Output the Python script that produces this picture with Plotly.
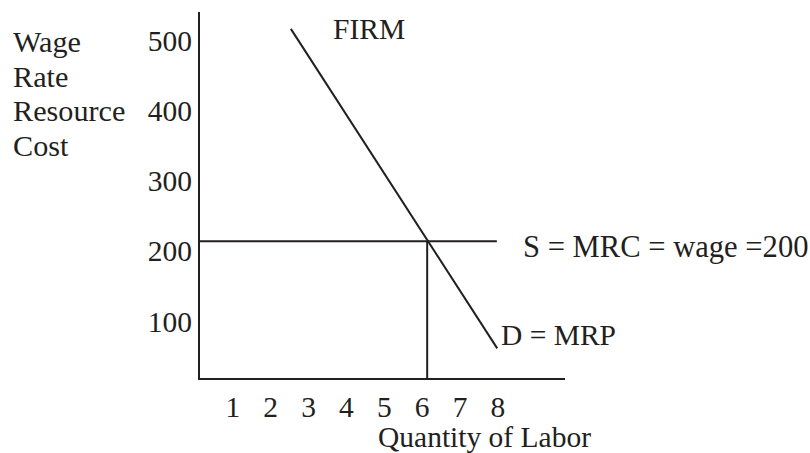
import plotly.graph_objects as go

# Data
quantity_ticks = [1, 2, 3, 4, 5, 6, 7, 8]
wage_ticks = [100, 200, 300, 400, 500]

demand_q = [2.40, 7.85]      # D = MRP endpoints (quantity)
demand_w = [503, 47]         # D = MRP endpoints (wage)
supply_q = [0, 7.84]         # S = MRC = wage = 200
supply_w = [200, 200]
equil_q = [6, 6]             # quantity hired
equil_w = [0, 200]

INK = "#231f20"
FONT = "Liberation Serif, Times New Roman, serif"
FS = 29.5

W, H = 810, 453
ML, MR, MT, MB = 200, 245, 12, 75
PW, PH = W - ML - MR, H - MT - MB

fig = go.Figure()
line = dict(color=INK, width=2)
fig.add_trace(go.Scatter(x=demand_q, y=demand_w, mode="lines", line=line, hoverinfo="skip"))
fig.add_trace(go.Scatter(x=supply_q, y=supply_w, mode="lines", line=line, hoverinfo="skip"))
fig.add_trace(go.Scatter(x=equil_q, y=equil_w, mode="lines", line=line, hoverinfo="skip"))

def ann(text, px, py, xanchor="left", size=FS):
    fig.add_annotation(text=text, x=(px - ML) / PW, y=(H - MB - py) / PH,
                       xref="paper", yref="paper", xanchor=xanchor,
                       yanchor="middle", showarrow=False,
                       font=dict(family=FONT, size=size, color=INK))

ann("FIRM", 331, 29)
ann("S = MRC = wage =200", 521, 247, size=30.6)
ann("D = MRP", 499, 335)
ann("Quantity of Labor", 484, 437, xanchor="center")
for txt, py in zip(["Wage", "Rate", "Resource", "Cost"], [42, 77, 111, 146]):
    ann(txt, 11, py, size=30.2)

fig.update_layout(
    width=W, height=H,
    margin=dict(l=ML, r=MR, t=MT, b=MB),
    paper_bgcolor="white", plot_bgcolor="white",
    showlegend=False,
    font=dict(family=FONT, size=FS, color=INK),
)
fig.update_xaxes(range=[0, 9.64], tickvals=quantity_ticks, showgrid=False, zeroline=False,
                 showline=True, linecolor=INK, linewidth=2, ticks="", automargin=False,
                 ticklabelshift=-5, ticklabelstandoff=2,
                 tickfont=dict(family=FONT, size=FS, color=INK))
fig.update_yaxes(range=[4.7, 527.1], tickvals=wage_ticks, showgrid=False, zeroline=False,
                 showline=True, linecolor=INK, linewidth=2, ticks="", automargin=False,
                 ticklabelshift=10, ticklabelstandoff=0,
                 tickfont=dict(family=FONT, size=FS, color=INK))

fig.write_html("out.html", config={"displayModeBar": False},
               post_script="document.body.style.margin='0';")
